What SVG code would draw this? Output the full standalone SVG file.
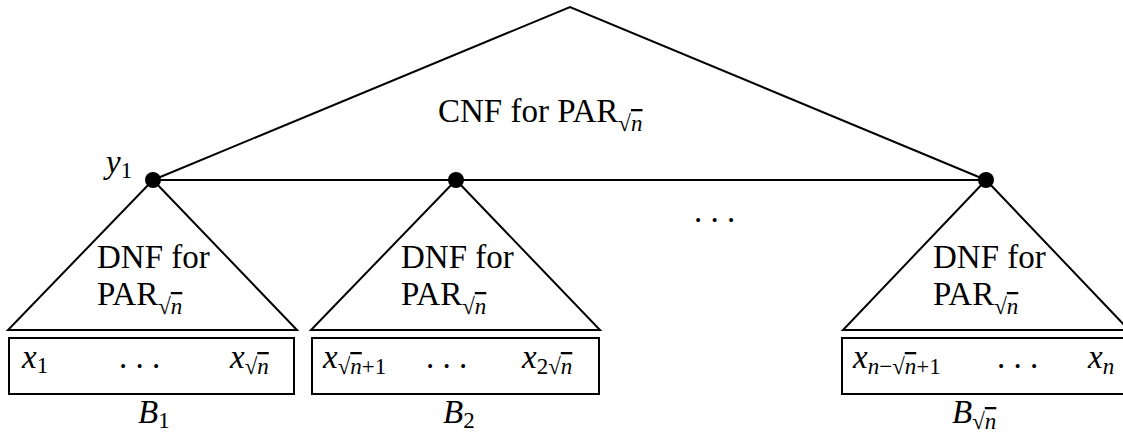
<svg xmlns="http://www.w3.org/2000/svg" width="1123" height="439" viewBox="0 0 1123 439">
<style>
.ln{fill:none;stroke:#000;stroke-width:2;stroke-linejoin:miter}
text{font-family:"Liberation Serif","Times New Roman",serif;font-size:33px;fill:#000}
.i{font-style:italic}
.s{font-size:23px;font-style:normal}
.si{font-size:23px;font-style:italic}
.ov{text-decoration:overline}
</style>
<rect width="1123" height="439" fill="#fff"/>
<g id="top">
  <polyline class="ln" points="153,180 570,7 986,180"/>
  <text x="438" y="122">CNF for PAR<tspan class="s" dy="9">√<tspan class="si ov">n</tspan></tspan></text>
</g>
<g id="connectors">
  <line class="ln" x1="153" y1="180" x2="986" y2="180"/>
</g>
<g id="tri1">
  <polygon class="ln" points="153,180 8,330 297,330"/>
  <text x="97" y="268">DNF for</text>
  <text x="97" y="305">PAR<tspan class="s" dy="9">√<tspan class="si ov">n</tspan></tspan></text>
</g>
<g id="tri2">
  <polygon class="ln" points="456,180 311,330 600,330"/>
  <text x="401" y="268">DNF for</text>
  <text x="401" y="305">PAR<tspan class="s" dy="9">√<tspan class="si ov">n</tspan></tspan></text>
</g>
<g id="tri3">
  <polygon class="ln" points="986,180 843,330 1129,330"/>
  <text x="933" y="268">DNF for</text>
  <text x="933" y="305">PAR<tspan class="s" dy="9">√<tspan class="si ov">n</tspan></tspan></text>
</g>
<g id="y1">
  <circle cx="153" cy="180" r="8" fill="#000"/>
  <text class="i" x="106" y="173">y<tspan class="s" dy="5">1</tspan></text>
</g>
<g id="dot2"><circle cx="456" cy="180" r="8" fill="#000"/></g>
<g id="dot3"><circle cx="986" cy="180" r="8" fill="#000"/></g>
<g id="ellipsis">
  <text x="694" y="222">. . .</text>
</g>
<g id="B1">
  <rect class="ln" x="9" y="338" width="285" height="56"/>
  <text class="i" x="22" y="368">x<tspan class="s" dy="5">1</tspan></text>
  <text x="119" y="368">. . .</text>
  <text class="i" x="230" y="368">x<tspan class="s" dy="6">√<tspan class="si ov">n</tspan></tspan></text>
  <text class="i" x="138" y="423">B<tspan class="s" dy="5">1</tspan></text>
</g>
<g id="B2">
  <rect class="ln" x="312" y="338" width="287" height="56"/>
  <text class="i" x="323" y="368">x<tspan class="s" dy="6">√<tspan class="si ov">n</tspan>+1</tspan></text>
  <text x="426" y="368">. . .</text>
  <text class="i" x="522" y="368">x<tspan class="s" dy="6">2√<tspan class="si ov">n</tspan></tspan></text>
  <text class="i" x="443" y="423">B<tspan class="s" dy="5">2</tspan></text>
</g>
<g id="Bn">
  <rect class="ln" x="842" y="338" width="286" height="56"/>
  <text class="i" x="853" y="368">x<tspan class="si" dy="6">n</tspan><tspan class="s">−√</tspan><tspan class="si ov">n</tspan><tspan class="s">+1</tspan></text>
  <text x="997" y="368">. . .</text>
  <text class="i" x="1088" y="368">x<tspan class="si" dy="6">n</tspan></text>
  <text class="i" x="952" y="423">B<tspan class="s" dy="6">√<tspan class="si ov">n</tspan></tspan></text>
</g>
</svg>
